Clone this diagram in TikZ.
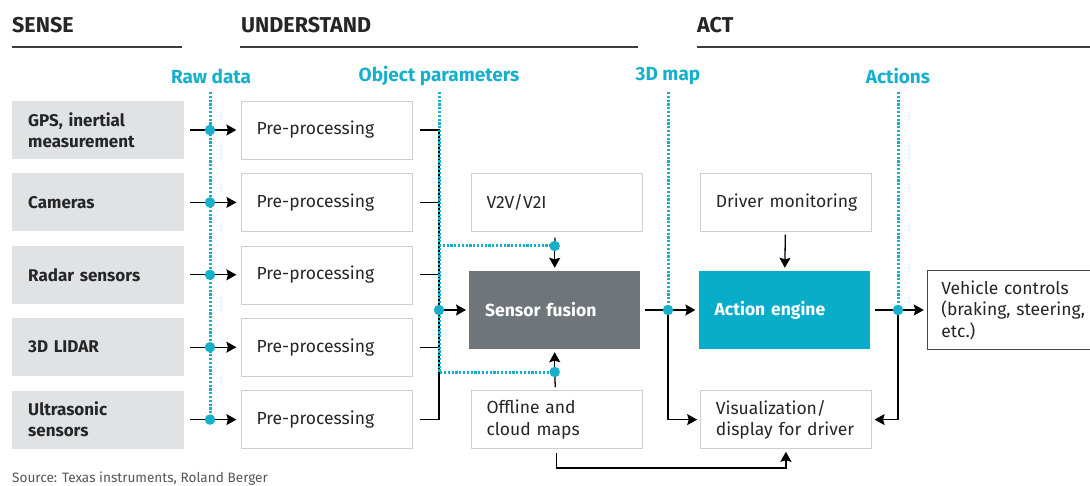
\documentclass[tikz,border=0pt]{standalone}
\usepackage{fontspec}
\setmainfont{Fira Sans}
\usepackage{tikz}
\usetikzlibrary{arrows.meta, positioning}
\definecolor{skyline}{HTML}{17B0CC}
\definecolor{engineblue}{HTML}{08ADCA}
\definecolor{fusiongray}{HTML}{6E767C}
\definecolor{sensegray}{HTML}{E1E2E4}
\definecolor{boxline}{HTML}{CFCFCF}
\definecolor{inkdark}{HTML}{262626}
\definecolor{srcgray}{HTML}{555555}

\begin{document}
\begin{tikzpicture}[x=1pt, y=-1pt,
        sensebox/.style={rectangle, fill=sensegray, minimum width=172pt,
                     minimum height=58pt, text width=140pt, inner xsep=16pt,
                     align=left, text=inkdark,
                     font=\fontsize{17}{21}\selectfont\bfseries},
        procbox/.style={rectangle, draw=boxline, fill=white, minimum width=170pt,
                     minimum height=58pt, text width=141pt, inner xsep=15pt,
                     align=left, text=inkdark,
                     font=\fontsize{17.5}{21.5}\selectfont},
        sidebox/.style={procbox, minimum width=171pt, text width=140pt, inner xsep=15.5pt},
        corebox/.style={rectangle, minimum width=171pt, minimum height=78pt,
                     text width=139pt, inner xsep=16pt, align=left, text=white,
                     font=\fontsize{17.5}{21}\selectfont\bfseries},
        head/.style={inner sep=0pt, anchor=west, text=inkdark,
                     font=\fontsize{21.5}{24}\selectfont\bfseries},
        tag/.style={inner sep=0pt, text=skyline,
                     font=\fontsize{19}{22}\selectfont\bfseries},
        rule/.style={line width=2pt, inkdark!90},
        wire/.style={line width=1.3pt, black},
        arr/.style={wire, -{Stealth[length=10pt, width=11pt, inset=1.5pt]}},
        beadline/.style={draw=skyline, line width=3pt, dash pattern=on 2.2pt off 1.6pt},
        dot/.style={circle, fill=skyline, minimum size=10.5pt, inner sep=0pt}
    ]
        \useasboundingbox (0,0) rectangle (1090,486);

        \node[head] (sense) at (12,25)  {SENSE};
        \node[head] (under) at (241,25) {UNDERSTAND};
        \node[head] (act)   at (697,25) {ACT};
        \draw[rule] (12,47) -- (182,47);
        \draw[rule] (240,47) -- (638,47);
        \draw[rule] (697,47) -- (1090,47);

        \node[tag] (rawlbl) at (211,76) {Raw data};
        \node[tag] (objlbl) at (439,76) {Object parameters};
        \node[tag] (maplbl) at (668,76) {3D map};
        \node[tag] (actlbl) at (898,76) {Actions};

        \node[sensebox, anchor=west] (s1) at (12,130) {GPS, inertial\\measurement};
        \node[sensebox, below=14pt of s1] (s2) {Cameras};
        \node[sensebox, below=14pt of s2] (s3) {Radar sensors};
        \node[sensebox, below=14pt of s3] (s4) {3D LIDAR};
        \node[sensebox, below=14pt of s4] (s5) {Ultrasonic\\sensors};

        \node[procbox, right=57pt of s1] (p1) {Pre-processing};
        \node[procbox, right=57pt of s2] (p2) {Pre-processing};
        \node[procbox, right=57pt of s3] (p3) {Pre-processing};
        \node[procbox, right=57pt of s4] (p4) {Pre-processing};
        \node[procbox, right=57pt of s5] (p5) {Pre-processing};

        \node[sidebox, right=58pt of p2] (v2v) {V2V/V2I};
        \node[corebox, fill=fusiongray, anchor=west] (fusion) at (469,310) {Sensor fusion};
        \node[sidebox, right=58pt of p5] (offline) {Offline and\\cloud maps};

        \node[sidebox, right=58pt of v2v] (driver) {\mbox{Driver monitoring}};
        \node[corebox, fill=engineblue, right=58pt of fusion] (action) {Action engine};
        \node[sidebox, right=58pt of offline] (visual) {Visualization/\\display for driver};
        \node[procbox, draw=inkdark!85, line width=1.2pt, minimum width=163pt,
              minimum height=79pt, text width=135pt, inner xsep=14pt,
              right=57pt of action] (vehicle) {Vehicle controls\\\mbox{(braking, steering,}\\etc.)};

        \node[inner sep=0pt, anchor=west, text=srcgray,
              font=\fontsize{13.6}{15}\selectfont] (source) at (12,479)
              {Source: Texas instruments, Roland Berger};

        \coordinate (rawx) at (210,0);
        \coordinate (objx) at (439,0);
        \coordinate (mapx) at (668,0);
        \coordinate (actx) at (898,0);
        \coordinate (topy) at (0,92);
        \coordinate (upy)  at (0,246);
        \coordinate (lowy) at (0,372);
        \coordinate (loopy) at (0,468);

        \coordinate (j1) at (s1 -| rawx); \coordinate (j2) at (s2 -| rawx);
        \coordinate (j3) at (s3 -| rawx); \coordinate (j4) at (s4 -| rawx);
        \coordinate (j5) at (s5 -| rawx);
        \coordinate (jo) at (fusion -| objx);
        \coordinate (jv) at (fusion.north |- upy);
        \coordinate (jl) at (fusion.south |- lowy);
        \coordinate (jm) at (fusion -| mapx);
        \coordinate (ja) at (action -| actx);

        \draw[wire, shorten <=7pt, shorten >=7pt] (p1) -- (p1 -| objx) -- (p5 -| objx) -- (p5);
        \draw[wire, shorten <=7pt] (p2) -- (p2 -| objx);
        \draw[wire, shorten <=7pt] (p3) -- (p3 -| objx);
        \draw[wire, shorten <=7pt] (p4) -- (p4 -| objx);

        \path[beadline] (rawx |- topy) -- (j5);
        \path[beadline] (objx |- topy) -- (objx |- lowy) -- (jl);
        \path[beadline] (objx |- upy) -- (jv);
        \path[beadline] (mapx |- topy) -- (jm);
        \path[beadline] (actx |- topy) -- (ja);

        \draw[wire, shorten <=6pt] (s1) -- (j1); \draw[arr, shorten >=5pt] (j1) -- (p1);
        \draw[wire, shorten <=6pt] (s2) -- (j2); \draw[arr, shorten >=5pt] (j2) -- (p2);
        \draw[wire, shorten <=6pt] (s3) -- (j3); \draw[arr, shorten >=5pt] (j3) -- (p3);
        \draw[wire, shorten <=6pt] (s4) -- (j4); \draw[arr, shorten >=5pt] (j4) -- (p4);
        \draw[wire, shorten <=6pt] (s5) -- (j5); \draw[arr, shorten >=5pt] (j5) -- (p5);
        \draw[arr, shorten >=3pt] (jo) -- (fusion);

        \draw[wire, shorten <=6pt] (v2v) -- (jv); \draw[arr, shorten >=3pt] (jv) -- (fusion);
        \draw[wire, shorten <=3pt] (offline) -- (jl); \draw[arr, shorten >=3pt] (jl) -- (fusion);

        \draw[wire, shorten <=5pt] (fusion) -- (jm);
        \draw[arr, shorten >=3pt] (jm) -- (action);
        \draw[arr, shorten >=3pt] (jm) |- (visual);
        \draw[arr, shorten <=3pt, shorten >=3pt] (driver) -- (action);
        \draw[wire, shorten <=5pt] (action) -- (ja);
        \draw[arr, shorten >=3pt] (ja) -- (vehicle);
        \draw[arr, shorten >=3pt] (ja) |- (visual);
        \draw[arr, shorten <=4pt, shorten >=3pt] (offline) -- (offline |- loopy) -| (visual);

        \node[dot] (d1) at (j1) {}; \node[dot] (d2) at (j2) {};
        \node[dot] (d3) at (j3) {}; \node[dot] (d4) at (j4) {};
        \node[dot] (d5) at (j5) {};
        \node[dot] (dobj) at (jo) {};
        \node[dot] (dv2v) at (jv) {};
        \node[dot] (dmap) at (jl) {};
        \node[dot] (d3d) at (jm) {};
        \node[dot] (dact) at (ja) {};
    \end{tikzpicture}
\end{document}
